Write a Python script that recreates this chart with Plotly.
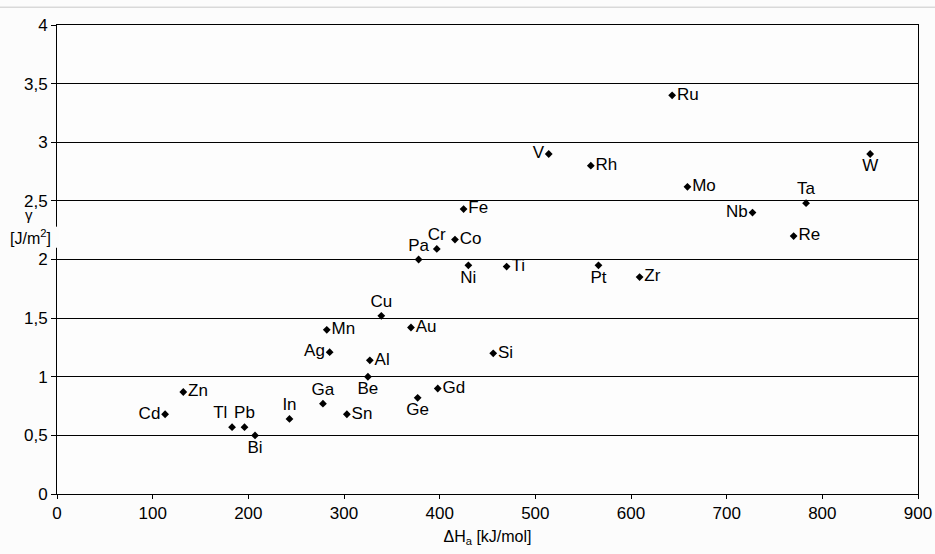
import plotly.graph_objects as go

elements = ["Ru", "V", "Rh", "Mo", "Nb", "Ta", "Re", "W", "Ti", "Pt", "Zr",
            "Fe", "Cr", "Co", "Pa", "Ni", "Cu", "Mn", "Au", "Ag", "Al", "Si",
            "Be", "Zn", "Gd", "Ga", "Ge", "Cd", "Sn", "In", "Tl", "Pb", "Bi"]
dHa = [643, 514, 558, 659, 727, 783, 770, 850, 470, 566, 609,
       425, 397, 416, 378, 430, 339, 282, 370, 285, 327, 456,
       325, 132, 398, 278, 377, 113, 303, 243, 183, 196, 207]
gamma = [3.40, 2.90, 2.80, 2.62, 2.40, 2.48, 2.20, 2.90, 1.94, 1.95, 1.85,
         2.43, 2.09, 2.17, 2.00, 1.95, 1.52, 1.40, 1.42, 1.21, 1.14, 1.20,
         1.00, 0.87, 0.90, 0.77, 0.82, 0.68, 0.68, 0.64, 0.57, 0.57, 0.50]
label_pos = ["middle right", "middle left", "middle right", "middle right",
             "middle left", "top center", "middle right", "bottom center",
             "middle right", "bottom center", "middle right",
             "middle right", "top center", "middle right", "top center",
             "bottom center", "top center", "middle right", "middle right",
             "middle left", "middle right", "middle right",
             "bottom center", "middle right", "middle right", "top center",
             "bottom center", "middle left", "middle right", "top center",
             "top left", "top center", "bottom center"]
x_ticks = [0, 100, 200, 300, 400, 500, 600, 700, 800, 900]
y_ticks = [0, 0.5, 1, 1.5, 2, 2.5, 3, 3.5, 4]

font = "Liberation Sans, Arial, sans-serif"

fig = go.Figure()
fig.add_trace(go.Scatter(
    x=dHa, y=gamma, mode="markers+text", text=elements,
    textposition=label_pos,
    textfont=dict(family=font, size=17, color="#000000"),
    marker=dict(symbol="diamond", size=6, color="#000000"),
    cliponaxis=False, showlegend=False,
))

fig.update_layout(
    width=935, height=554,
    margin=dict(l=57, r=17, t=25, b=60, autoexpand=False),
    paper_bgcolor="#fcfcfc", plot_bgcolor="#fdfdfd",
    separators=",.",
    font=dict(family=font, color="#000000"),
    xaxis=dict(range=[0, 900], tickvals=x_ticks, showgrid=False,
               showline=True, linecolor="#000000", linewidth=1, mirror=True,
               ticks="outside", ticklen=4, tickcolor="#000000",
               tickfont=dict(size=17), zeroline=False, automargin=False,
               title=dict(text="ΔH<sub>a</sub> [kJ/mol]",
                          font=dict(size=16, family=font),
                          standoff=8)),
    yaxis=dict(range=[0, 4], tickvals=y_ticks, showgrid=True,
               gridcolor="#000000", gridwidth=1, automargin=False,
               showline=True, linecolor="#000000", linewidth=1, mirror=True,
               ticks="outside", ticklen=5, tickcolor="#000000",
               tickfont=dict(size=17), zeroline=False),
    annotations=[
        dict(text="γ", xref="paper", yref="y", x=-0.032, y=2.38,
             showarrow=False, font=dict(size=15, family=font),
             xanchor="center", yanchor="middle"),
        dict(text="[J/m<sup>2</sup>]", xref="paper", yref="y", x=-0.031, y=2.19,
             showarrow=False, font=dict(size=16, family=font),
             xanchor="center", yanchor="middle"),
    ],
    shapes=[
        dict(type="line", xref="paper", yref="paper",
             x0=-0.07, x1=1.02, y0=1.038, y1=1.038,
             line=dict(color="#c8c8c8", width=1)),
        dict(type="rect", xref="paper", yref="y", layer="above",
             x0=-0.007, x1=0.0015, y0=2.1, y1=2.28,
             fillcolor="#fcfcfc", line=dict(width=0)),
    ],
)

fig.write_html("out.html", config={"displayModeBar": False},
               post_script="document.body.style.margin='0';document.body.style.overflow='hidden';")
